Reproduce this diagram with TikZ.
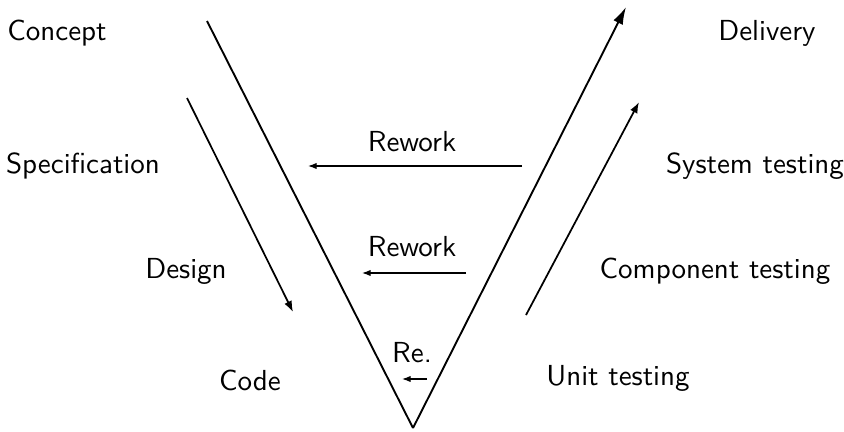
\documentclass[tikz,border=0pt]{standalone}
\usetikzlibrary{arrows.meta}

\begin{document}
\begin{tikzpicture}[
    x=0.345pt, y=-0.345pt,
    stage/.style={font=\sffamily, inner sep=0pt},
    vline/.style={line width=0.65pt},
    flow/.style={-{Latex[length=3.8pt,width=2.8pt]}, line width=0.6pt},
    rework/.style={-{Latex[length=3pt,width=2.2pt]}, line width=0.4pt}
]
    \useasboundingbox (0,0) rectangle (844,431);

    \node[stage] (concept) at (57,33) {Concept};
    \node[stage] (spec) at (83,166) {Specification};
    \node[stage] (design) at (186,271) {Design};
    \node[stage] (code) at (250,380) {Code};
    \node[stage] (delivery) at (767,33) {Delivery};
    \node[stage] (systest) at (755,166) {System testing};
    \node[stage] (comptest) at (715,271) {Component testing};
    \node[stage] (unittest) at (618,378) {Unit testing};
    \node[stage] (rw1) at (412,142) {Rework};
    \node[stage] (rw2) at (412,247) {Rework};
    \node[stage] (rw3) at (412,353) {Re.};

    \coordinate (vtop) at (207,21);
    \coordinate (vbot) at (413,428);
    \coordinate (vend) at (626,7);
    \coordinate (down1) at (187,98);
    \coordinate (down2) at (293,312);
    \coordinate (up1) at (526,315);
    \coordinate (up2) at (639,102);
    \coordinate (rw1a) at (522,166);
    \coordinate (rw1b) at (308,166);
    \coordinate (rw2a) at (466,273);
    \coordinate (rw2b) at (362,273);
    \coordinate (rw3a) at (427,379);
    \coordinate (rw3b) at (402,379);

    \draw[vline] (vtop) -- (vbot);
    \draw[vline, -{Latex[length=6pt,width=3.6pt]}] (vbot) -- (vend);
    \draw[flow] (down1) -- (down2);
    \draw[flow] (up1) -- (up2);
    \draw[rework] (rw1a) -- (rw1b);
    \draw[rework] (rw2a) -- (rw2b);
    \draw[rework] (rw3a) -- (rw3b);
\end{tikzpicture}
\end{document}
